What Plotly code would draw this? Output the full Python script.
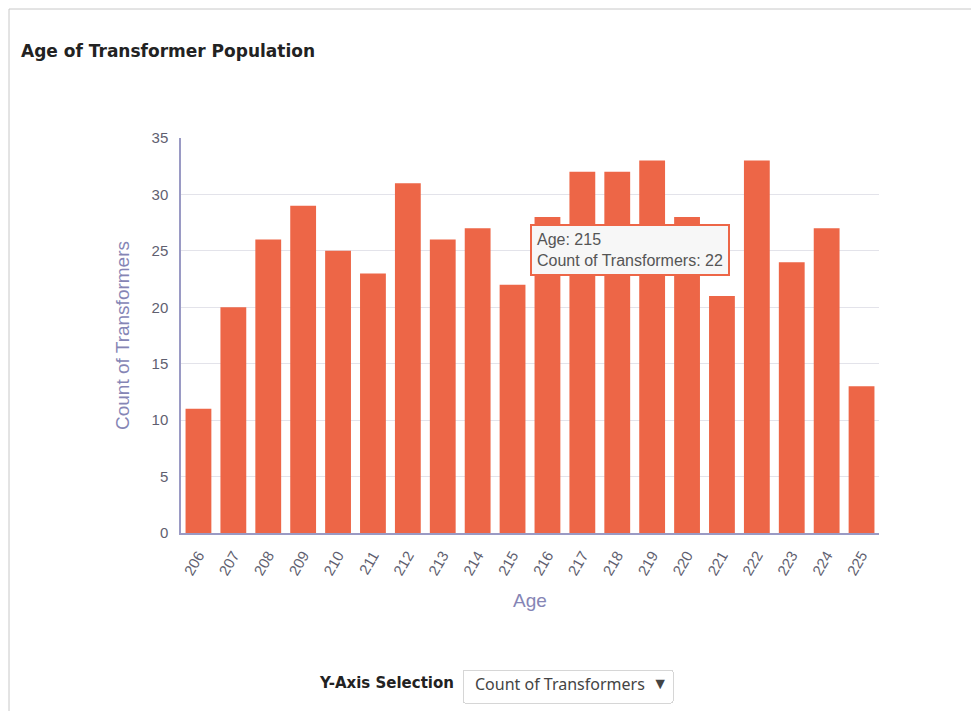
import plotly.graph_objects as go

ages = ["206", "207", "208", "209", "210", "211", "212", "213", "214", "215",
        "216", "217", "218", "219", "220", "221", "222", "223", "224", "225"]
counts = [11, 20, 26, 29, 25, 23, 31, 26, 27, 22,
          28, 32, 32, 33, 28, 21, 33, 24, 27, 13]
y_ticks = [0, 5, 10, 15, 20, 25, 30, 35]

# page body has an 8px margin; work in screenshot pixels and shift
O = 8
W, H = 979 - O, 711 - O
PL, PR, PT, PB = 181, 879, 138, 533          # plot area in screenshot pixels
L, R, T, B = PL - O, W + O - PR, PT - O, H + O - PB

fig = go.Figure(go.Bar(
    x=ages, y=counts,
    marker=dict(color="#ED6647", line=dict(width=0)),
    width=0.74,
    hovertemplate="Age: %{x}<br>Count of Transformers: %{y}<extra></extra>",
))

axis_font = dict(family="Liberation Sans, Arial, sans-serif", size=15, color="#5f5f70")
title_font = dict(family="Liberation Sans, Arial, sans-serif", size=19, color="#8585b5")

fig.update_layout(
    width=W, height=H,
    margin=dict(l=L, r=R, t=T, b=B, autoexpand=False),
    paper_bgcolor="white", plot_bgcolor="white",
    showlegend=False,
    xaxis=dict(
        title=dict(text="Age", font=title_font, standoff=17),
        tickfont=axis_font, tickangle=-60, ticklabelstandoff=6,
        showline=True, linecolor="#9a9ac4", linewidth=1.5,
        showgrid=False, ticks="",
    ),
    yaxis=dict(
        title=dict(text="Count of Transformers", font=title_font, standoff=17),
        tickfont=axis_font, tickvals=y_ticks, range=[0, 35], ticklabelstandoff=8,
        showline=True, linecolor="#9a9ac4", linewidth=1.5,
        gridcolor="#e3e3ea", gridwidth=1, zeroline=False, ticks="",
    ),
    bargap=0.26,
)

def px_x(x):
    return (x - O - L) / (W - L - R)

def px_y(y):
    return 1 - (y - O - T) / (H - T - B)

# Panel border
fig.add_shape(type="rect", xref="paper", yref="paper",
              x0=px_x(9), x1=px_x(1000), y0=px_y(730), y1=px_y(9),
              line=dict(color="#c8c8c8", width=1), fillcolor="rgba(0,0,0,0)", layer="below")

# Chart title
fig.add_annotation(text="<b>Age of Transformer Population</b>", xref="paper", yref="paper",
                   x=px_x(19), y=px_y(51), xanchor="left", yanchor="middle", showarrow=False,
                   font=dict(family="DejaVu Sans, Verdana, sans-serif", size=17, color="#222222"))

# Tooltip
fig.add_annotation(text="Age: 215<br>Count of Transformers: 22", xref="paper", yref="paper",
                   x=px_x(530), y=px_y(250), xanchor="left", yanchor="middle", showarrow=False,
                   align="left", bgcolor="#f7f7f7", bordercolor="#ED6647", borderwidth=2, borderpad=5,
                   font=dict(family="Liberation Sans, Arial, sans-serif", size=16, color="#555555"))

# Y-axis selection label
fig.add_annotation(text="<b>Y-Axis Selection</b>", xref="paper", yref="paper",
                   x=px_x(456), y=px_y(683), xanchor="right", yanchor="middle", showarrow=False,
                   font=dict(family="DejaVu Sans, Verdana, sans-serif", size=15, color="#222222"))

fig.update_layout(updatemenus=[dict(
    type="dropdown", direction="down", showactive=True,
    x=px_x(462), y=px_y(669), xanchor="left", yanchor="top",
    bgcolor="white", bordercolor="#d6d6d6", borderwidth=1,
    font=dict(family="Noto Sans, sans-serif", size=16, color="#444444"),
    pad=dict(l=0, r=0, t=0, b=0),
    buttons=[dict(label="Count of Transformers", method="skip", args=[None])],
)])

fig.write_html("out.html")
